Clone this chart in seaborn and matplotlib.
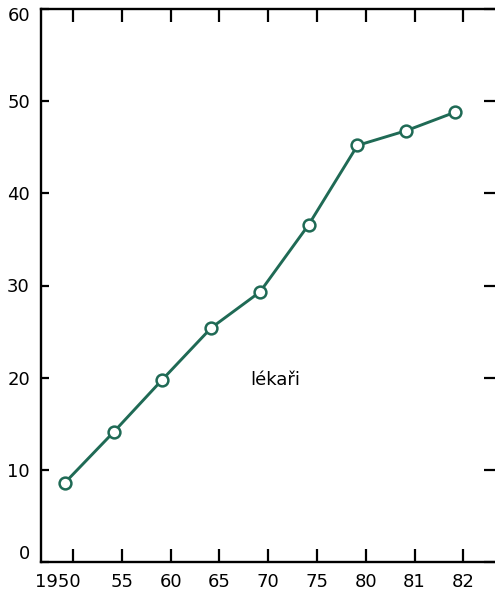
import matplotlib
matplotlib.use('Agg')
import matplotlib.pyplot as plt
import matplotlib.transforms as mtransforms
import seaborn as sns
import pandas as pd

# data (lékaři, in thousands)
years = ['1950', '55', '60', '65', '70', '75', '80', '81', '82']
values = [8.6, 14.1, 19.8, 25.4, 29.3, 36.6, 45.2, 46.8, 48.8]
yticks = [0, 10, 20, 30, 40, 50, 60]
label = 'lékaři'

sns.set_style('ticks')
plt.rcParams['font.family'] = ['DejaVu Sans']

green = '#1f6a55'

fig = plt.figure(figsize=(4.95, 5.99), dpi=100)
ax = fig.add_axes([41/495, 1-562/599, 1-41/495, 553/599])

df = pd.DataFrame({'pos': range(len(years)), 'val': values})
sns.lineplot(data=df, x='pos', y='val', ax=ax, color=green, linewidth=2.1,
             marker='o', markersize=8.5, markerfacecolor='white',
             markeredgecolor=green, markeredgewidth=1.8)

ax.set_xlim(-0.49, 8.82)
ax.set_ylim(0, 60)
ax.set_xticks([i + 0.17 for i in range(len(years))])
ax.set_xticklabels(years, fontsize=13)
ax.set_yticks(yticks)
ax.set_yticklabels([str(v) for v in yticks], fontsize=13)
ax.set_xlabel('')
ax.set_ylabel('')

for s in ['left', 'top', 'bottom']:
    ax.spines[s].set_linewidth(1.7)
    ax.spines[s].set_color('black')
ax.spines['right'].set_visible(False)

ax.tick_params(axis='x', direction='in', top=True, bottom=True, length=9.5,
               width=1.6, pad=8, colors='black')
ax.tick_params(axis='y', direction='in', left=True, right=True, length=6,
               width=1.6, pad=8, colors='black')
for t in ax.yaxis.get_major_ticks():
    t.tick2line.set_markersize(8)

# small shifts of labels like in the printed original
lbl = ax.get_xticklabels()[0]
lbl.set_transform(lbl.get_transform() + mtransforms.ScaledTranslation(-0.15, 0, fig.dpi_scale_trans))
lbl0 = ax.get_yticklabels()[0]
lbl0.set_transform(lbl0.get_transform() + mtransforms.ScaledTranslation(0, 0.1, fig.dpi_scale_trans))
lbl60 = ax.get_yticklabels()[-1]
lbl60.set_transform(lbl60.get_transform() + mtransforms.ScaledTranslation(0, -0.05, fig.dpi_scale_trans))

ax.text(4.31, 19.7, label, fontsize=13, ha='center', va='center', color='black')

plt.savefig('out.png', dpi=100)
